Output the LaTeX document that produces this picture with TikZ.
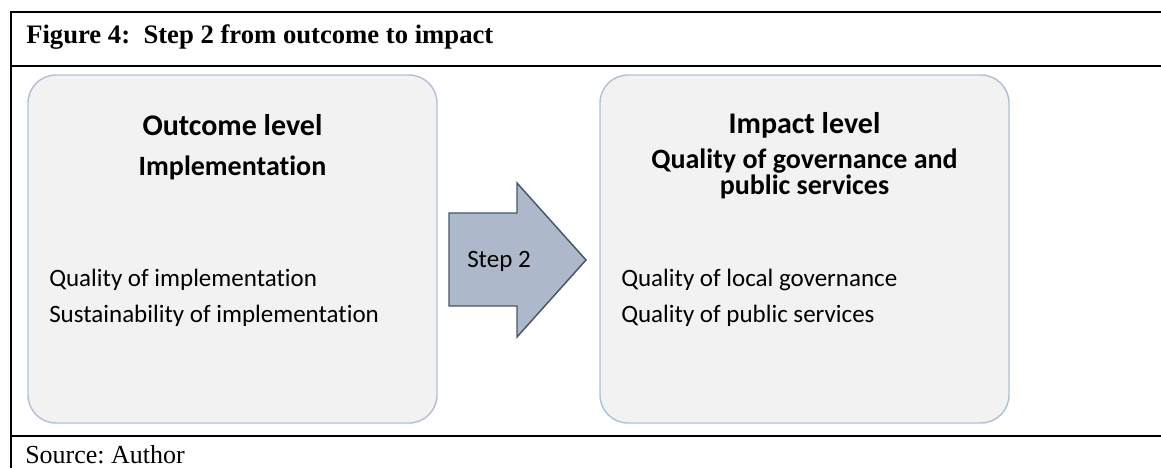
\documentclass[tikz,border=0pt]{standalone}
\usepackage{fontspec}
\setmainfont{Liberation Serif}
\newfontfamily\calibri[Ligatures=NoCommon]{Carlito}
\usetikzlibrary{positioning}
\frenchspacing

\definecolor{levelfill}{HTML}{F2F2F2}
\definecolor{levelline}{HTML}{B3C1D6}
\definecolor{stepfill}{HTML}{ADB9CA}
\definecolor{stepline}{HTML}{46566C}

\begin{document}
\begin{tikzpicture}[x=0.75pt,y=0.75pt,yscale=-1,xscale=1,
  framerule/.style={line width=1.5},
  levelbox/.style={draw=levelline,fill=levelfill,line width=1.1,rounded corners=21pt,
    minimum width=306.75pt,minimum height=261pt,inner sep=0pt},
  headtext/.style={font=\calibri\bfseries\fontsize{22.5}{27}\selectfont,inner sep=0pt},
  subtext/.style={font=\calibri\bfseries\fontsize{21}{25}\selectfont,inner sep=0pt},
  bodytext/.style={font=\calibri\fontsize{18.75}{22.5}\selectfont,inner sep=0pt},
  steparrow/.style={draw=stepline,fill=stepfill,line width=1.1,line join=miter}]
%uncomment if require: \path (0,468); %set diagram left start at 0, and has height of 468
\useasboundingbox (0,0) rectangle (1161,468);

%Frame of the figure
\draw [framerule] (1161,12) -- (11,12) -- (11,468);
\draw [framerule] (11,66) -- (1161,66);
\draw [framerule] (11,436) -- (1161,436);

% Title and source
\draw (26,43) node (title) [anchor=base west,inner sep=0pt] {\fontsize{20}{24}\selectfont\bfseries Figure 4:~ Step 2 from outcome to impact};
\draw (25,463) node (source) [anchor=base west,inner sep=0pt] {\fontsize{19.5}{23}\selectfont Source: Author};

%Rounded Rect: outcome level
\node (outcome) [levelbox] at (232.5,249) {};
%Rounded Rect: impact level
\node (impact) [levelbox] at (804.5,249) {};

%Shape: Right Arrow
\draw [steparrow] (449,213) -- (517,213) -- (517,183) -- (586,260) -- (517,337) -- (517,306) -- (449,306) -- cycle;
\draw (499,267) node (step) [anchor=base,bodytext] {Step 2};

% Text Node
\draw (232.5,135) node (outhead) [anchor=base,headtext] {Outcome level};
\draw (232.5,175) node (outsub) [anchor=base,subtext] {Implementation};
\draw (49,286) node (outqual) [anchor=base west,bodytext] {Quality of implementation};
\draw (49,322) node (outsust) [anchor=base west,bodytext] {Sustainability of implementation};
% Text Node
\draw (804.5,133) node (imphead) [anchor=base,headtext] {Impact level};
\draw (804.5,168) node (impsub) [anchor=base,subtext] {Quality of governance and};
\draw (804.5,194) node (impsubb) [anchor=base,subtext] {public services};
\draw (621,286) node (impgov) [anchor=base west,bodytext] {Quality of local governance};
\draw (621,322) node (impserv) [anchor=base west,bodytext] {Quality of public services};

\end{tikzpicture}
\end{document}
